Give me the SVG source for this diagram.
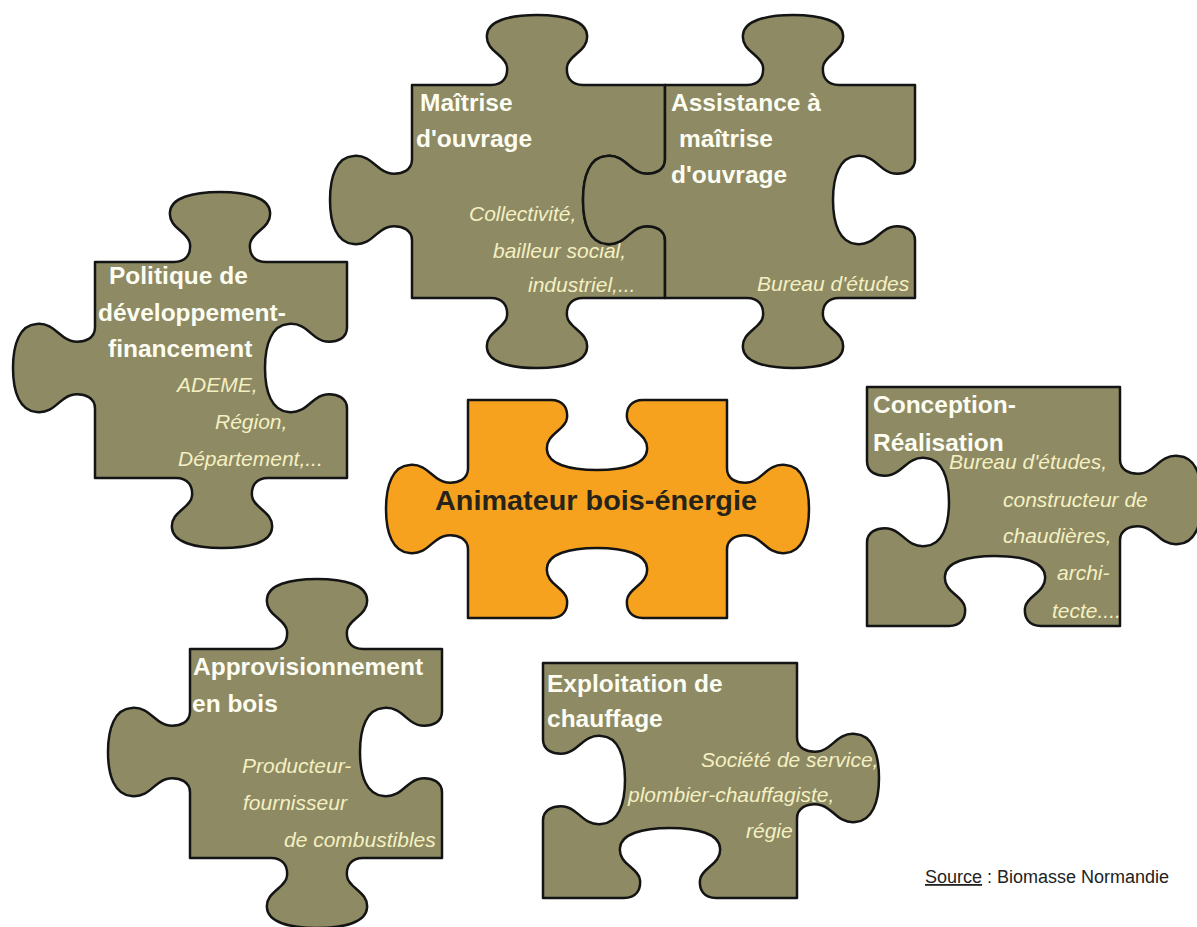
<svg xmlns="http://www.w3.org/2000/svg" width="1197" height="927" viewBox="0 0 1197 927">
<style>
.piece{fill:#8d8a64;stroke:#141414;stroke-width:2.5;stroke-linejoin:round}
.center{fill:#f6a21e}
.t{font-family:"Liberation Sans",Arial,sans-serif;font-weight:bold;font-size:24.5px;fill:#fdfdf2}
.s{font-family:"Liberation Sans",Arial,sans-serif;font-style:italic;font-size:21px;fill:#f5f0c2}
.c{font-family:"Liberation Sans",Arial,sans-serif;font-weight:bold;font-size:27px;fill:#26241a}
.src{font-family:"Liberation Sans",Arial,sans-serif;font-size:18px;fill:#222}
</style>
<rect width="1197" height="927" fill="#ffffff"/>
<g id="maitrise-ouvrage">
<path class="piece" d="M412,85 H491 c12,0 17,-8 16,-18 c-1,-12 -22,-16 -20,-32 c1,-14 22,-20 50,-20 c28,0 49,6 50,20 c2,16 -19,20 -20,32 c-1,10 4,18 16,18 H665 V159.5 c0,10.5 -9.5,15 -21,14 c-14,-1 -18.5,-19.5 -37.5,-17.5 c-16.5,1 -23.5,19.5 -23.5,44 c0,24.5 7,43 23.5,44 c18.5,2 23.5,-16.5 37.5,-17.5 c11.5,-1 21,3.5 21,14 V298 H583 c-12,0 -17,8 -16,18 c1,12 22,16 20,32 c-1,14 -22,20 -50,20 c-28,0 -49,-6 -50,-20 c-2,-16 19,-20 20,-32 c1,-10 -4,-18 -16,-18 H412 V240.5 c0,-10.5 -9.5,-15 -21,-14 c-14,1 -18.5,19.5 -37.5,17.5 c-16.5,-1 -23.5,-19.5 -23.5,-44 c0,-24.5 7,-43 23.5,-44 c18.5,-2 23.5,16.5 37.5,17.5 c11.5,1 21,-3.5 21,-14 Z"/>
<text class="t" x="420" y="111">Maîtrise</text>
<text class="t" x="416" y="147">d'ouvrage</text>
<text class="s" x="469" y="221">Collectivité,</text>
<text class="s" x="493" y="258">bailleur social,</text>
<text class="s" x="528" y="292">industriel,...</text>
</g>
<g id="assistance-maitrise-ouvrage">
<path class="piece" d="M665,85 H747 c12,0 17,-8 16,-18 c-1,-12 -22,-16 -20,-32 c1,-14 22,-20 50,-20 c28,0 49,6 50,20 c2,16 -19,20 -20,32 c-1,10 4,18 16,18 H915 V159.5 c0,10.5 -9.5,15 -21,14 c-14,-1 -18.5,-19.5 -37.5,-17.5 c-16.5,1 -23.5,19.5 -23.5,44 c0,24.5 7,43 23.5,44 c18.5,2 23.5,-16.5 37.5,-17.5 c11.5,-1 21,3.5 21,14 V298 H839 c-12,0 -17,8 -16,18 c1,12 22,16 20,32 c-1,14 -22,20 -50,20 c-28,0 -49,-6 -50,-20 c-2,-16 19,-20 20,-32 c1,-10 -4,-18 -16,-18 H665 V240.5 c0,-10.5 -9.5,-15 -21,-14 c-14,1 -18.5,19.5 -37.5,17.5 c-16.5,-1 -23.5,-19.5 -23.5,-44 c0,-24.5 7,-43 23.5,-44 c18.5,-2 23.5,16.5 37.5,17.5 c11.5,1 21,-3.5 21,-14 Z"/>
<text class="t" x="671" y="111">Assistance à</text>
<text class="t" x="679" y="147">maîtrise</text>
<text class="t" x="671" y="183">d'ouvrage</text>
<text class="s" x="757" y="291">Bureau d'études</text>
</g>
<g id="politique">
<path class="piece" d="M95,262 H174 c12,0 17,-8 16,-18 c-1,-12 -22,-16 -20,-32 c1,-14 22,-20 50,-20 c28,0 49,6 50,20 c2,16 -19,20 -20,32 c-1,10 4,18 16,18 H347 V327.5 c0,10.5 -9.5,15 -21,14 c-14,-1 -18.5,-19.5 -37.5,-17.5 c-16.5,1 -23.5,19.5 -23.5,44 c0,24.5 7,43 23.5,44 c18.5,2 23.5,-16.5 37.5,-17.5 c11.5,-1 21,3.5 21,14 V478 H268 c-12,0 -17,8 -16,18 c1,12 22,16 20,32 c-1,14 -22,20 -50,20 c-28,0 -49,-6 -50,-20 c-2,-16 19,-20 20,-32 c1,-10 -4,-18 -16,-18 H95 V408.5 c0,-10.5 -9.5,-15 -21,-14 c-14,1 -18.5,19.5 -37.5,17.5 c-16.5,-1 -23.5,-19.5 -23.5,-44 c0,-24.5 7,-43 23.5,-44 c18.5,-2 23.5,16.5 37.5,17.5 c11.5,1 21,-3.5 21,-14 Z"/>
<text class="t" x="109" y="284">Politique de</text>
<text class="t" x="98" y="321">développement-</text>
<text class="t" x="108" y="357">financement</text>
<text class="s" x="177" y="392">ADEME,</text>
<text class="s" x="215" y="429">Région,</text>
<text class="s" x="178" y="466">Département,...</text>
</g>
<g id="animateur">
<path class="piece center" d="M468,400 H551 c12,0 17,8 16,18 c-1,12 -22,16 -20,32 c1,14 22,20 50,20 c28,0 49,-6 50,-20 c2,-16 -19,-20 -20,-32 c-1,-10 4,-18 16,-18 H727 V468.5 c0,10.5 9.5,15 21,14 c14,-1 18.5,-19.5 37.5,-17.5 c16.5,1 23.5,19.5 23.5,44 c0,24.5 -7,43 -23.5,44 c-18.5,2 -23.5,-16.5 -37.5,-17.5 c-11.5,-1 -21,3.5 -21,14 V618 H643 c-12,0 -17,-8 -16,-18 c1,-12 22,-16 20,-32 c-1,-14 -22,-20 -50,-20 c-28,0 -49,6 -50,20 c-2,16 19,20 20,32 c1,10 -4,18 -16,18 H468 V549.5 c0,-10.5 -9.5,-15 -21,-14 c-14,1 -18.5,19.5 -37.5,17.5 c-16.5,-1 -23.5,-19.5 -23.5,-44 c0,-24.5 7,-43 23.5,-44 c18.5,-2 23.5,16.5 37.5,17.5 c11.5,1 21,-3.5 21,-14 Z"/>
<text class="c" x="596" y="510" text-anchor="middle" textLength="322" lengthAdjust="spacingAndGlyphs">Animateur bois-énergie</text>
</g>
<g id="conception">
<path class="piece" d="M867,387 H1120 V459.5 c0,10.5 9.5,15 21,14 c14,-1 18.5,-19.5 37.5,-17.5 c16.5,1 23.5,19.5 23.5,44 c0,24.5 -7,43 -23.5,44 c-18.5,2 -23.5,-16.5 -37.5,-17.5 c-11.5,-1 -21,3.5 -21,14 V626 H1041 c-12,0 -17,-8 -16,-18 c1,-12 22,-16 20,-32 c-1,-14 -22,-20 -50,-20 c-28,0 -49,6 -50,20 c-2,16 19,20 20,32 c1,10 -4,18 -16,18 H867 V542.5 c0,-10.5 9.5,-15 21,-14 c14,1 18.5,19.5 37.5,17.5 c16.5,-1 23.5,-19.5 23.5,-44 c0,-24.5 -7,-43 -23.5,-44 c-18.5,-2 -23.5,16.5 -37.5,17.5 c-11.5,1 -21,-3.5 -21,-14 Z"/>
<text class="t" x="873" y="413">Conception-</text>
<text class="t" x="873" y="451">Réalisation</text>
<text class="s" x="949" y="469">Bureau d'études,</text>
<text class="s" x="1003" y="507">constructeur de</text>
<text class="s" x="1003" y="543">chaudières,</text>
<text class="s" x="1057" y="580">archi-</text>
<text class="s" x="1052" y="618">tecte....</text>
</g>
<g id="approvisionnement">
<path class="piece" d="M190,649 H271 c12,0 17,-8 16,-18 c-1,-12 -22,-16 -20,-32 c1,-14 22,-20 50,-20 c28,0 49,6 50,20 c2,16 -19,20 -20,32 c-1,10 4,18 16,18 H442 V711.5 c0,10.5 -9.5,15 -21,14 c-14,-1 -18.5,-19.5 -37.5,-17.5 c-16.5,1 -23.5,19.5 -23.5,44 c0,24.5 7,43 23.5,44 c18.5,2 23.5,-16.5 37.5,-17.5 c11.5,-1 21,3.5 21,14 V858 H363 c-12,0 -17,8 -16,18 c1,12 22,16 20,32 c-1,14 -22,20 -50,20 c-28,0 -49,-6 -50,-20 c-2,-16 19,-20 20,-32 c1,-10 -4,-18 -16,-18 H190 V792.5 c0,-10.5 -9.5,-15 -21,-14 c-14,1 -18.5,19.5 -37.5,17.5 c-16.5,-1 -23.5,-19.5 -23.5,-44 c0,-24.5 7,-43 23.5,-44 c18.5,-2 23.5,16.5 37.5,17.5 c11.5,1 21,-3.5 21,-14 Z"/>
<text class="t" x="193" y="675">Approvisionnement</text>
<text class="t" x="192" y="712">en bois</text>
<text class="s" x="242" y="773">Producteur-</text>
<text class="s" x="243" y="810">fournisseur</text>
<text class="s" x="284" y="847">de combustibles</text>
</g>
<g id="exploitation">
<path class="piece" d="M543,663 H797 V737.5 c0,10.5 9.5,15 21,14 c14,-1 18.5,-19.5 37.5,-17.5 c16.5,1 23.5,19.5 23.5,44 c0,24.5 -7,43 -23.5,44 c-18.5,2 -23.5,-16.5 -37.5,-17.5 c-11.5,-1 -21,3.5 -21,14 V898 H716 c-12,0 -17,-8 -16,-18 c1,-12 22,-16 20,-32 c-1,-14 -22,-20 -50,-20 c-28,0 -49,6 -50,20 c-2,16 19,20 20,32 c1,10 -4,18 -16,18 H543 V820.5 c0,-10.5 9.5,-15 21,-14 c14,1 18.5,19.5 37.5,17.5 c16.5,-1 23.5,-19.5 23.5,-44 c0,-24.5 -7,-43 -23.5,-44 c-18.5,-2 -23.5,16.5 -37.5,17.5 c-11.5,1 -21,-3.5 -21,-14 Z"/>
<text class="t" x="547" y="692">Exploitation de</text>
<text class="t" x="547" y="727">chauffage</text>
<text class="s" x="701" y="767">Société de service,</text>
<text class="s" x="628" y="802">plombier-chauffagiste,</text>
<text class="s" x="746" y="838">régie</text>
</g>
<text class="src" x="925" y="883"><tspan text-decoration="underline">Source</tspan> : Biomasse Normandie</text>
</svg>
